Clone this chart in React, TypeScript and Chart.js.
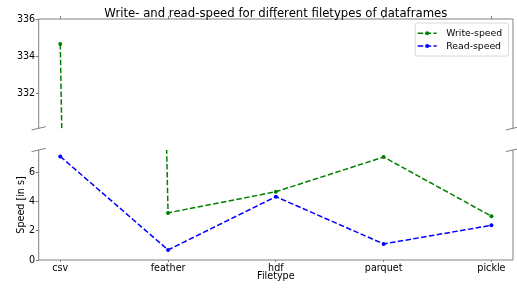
import React, { useEffect, useRef } from 'react';
import { Chart, registerables } from 'chart.js';

Chart.register(...registerables);

// ---- data ----
const categories = ['csv', 'feather', 'hdf', 'parquet', 'pickle'];
const writeSpeed = [334.65, 3.23, 4.68, 7.06, 3.0];
const readSpeed = [7.1, 0.69, 4.34, 1.1, 2.38];
const topTicks = [332, 334, 336];
const bottomTicks = [0, 2, 4, 6];
const topRange = [330.1, 336];
const bottomRange = [0, 7.54];
const titleText = 'Write- and read-speed for different filetypes of dataframes';
const xTitle = 'Filetype';
const yTitle = 'Speed [in s]';

const FONT = "'DejaVu Sans', 'Liberation Sans', sans-serif";
const SPINE = '#808080';
const WRITE_COLOR = '#008000';
const READ_COLOR = '#0000ff';

const seriesList = [
  { label: 'Write-speed', values: writeSpeed, color: WRITE_COLOR },
  { label: 'Read-speed', values: readSpeed, color: READ_COLOR },
];

function makeDatasets() {
  return seriesList.map((s) => ({
    label: s.label,
    data: categories.map((_, i) => ({ x: i, y: s.values[i] })),
    borderColor: s.color,
    backgroundColor: s.color,
    borderWidth: 1.5,
    borderDash: [5.5, 2.4],
    pointRadius: 2,
    pointBorderWidth: 0,
    pointBackgroundColor: s.color,
    tension: 0,
    clip: 0,
  }));
}

const decorPlugin = {
  id: 'decor',
  afterDraw(chart: any, _args: any, opts: any) {
    const { ctx, chartArea: a } = chart;
    const which = opts.which;
    ctx.save();
    ctx.strokeStyle = SPINE;
    ctx.lineWidth = 1;
    ctx.beginPath();
    ctx.moveTo(a.left, a.top);
    ctx.lineTo(a.left, a.bottom);
    ctx.moveTo(a.right, a.top);
    ctx.lineTo(a.right, a.bottom);
    if (which === 'top') {
      ctx.moveTo(a.left, a.top);
      ctx.lineTo(a.right, a.top);
    } else {
      ctx.moveTo(a.left, a.bottom);
      ctx.lineTo(a.right, a.bottom);
    }
    ctx.stroke();
    // break marks
    const dx = 0.015 * (a.right - a.left);
    const dy = 0.015 * (a.bottom - a.top);
    const y = which === 'top' ? a.bottom : a.top;
    ctx.beginPath();
    for (const x of [a.left, a.right]) {
      ctx.moveTo(x - dx, y + dy);
      ctx.lineTo(x + dx, y - dy);
    }
    ctx.stroke();

    if (which === 'top') {
      // title
      ctx.fillStyle = '#000';
      ctx.font = `11.7px ${FONT}`;
      ctx.textAlign = 'center';
      ctx.textBaseline = 'alphabetic';
      ctx.fillText(titleText, (a.left + a.right) / 2, 16.8);
      // legend
      const bw = 93.3;
      const bh = 33;
      const bx = a.right - 4.5 - bw;
      const by = a.top + 4;
      ctx.beginPath();
      const r = 2;
      ctx.moveTo(bx + r, by);
      ctx.lineTo(bx + bw - r, by);
      ctx.quadraticCurveTo(bx + bw, by, bx + bw, by + r);
      ctx.lineTo(bx + bw, by + bh - r);
      ctx.quadraticCurveTo(bx + bw, by + bh, bx + bw - r, by + bh);
      ctx.lineTo(bx + r, by + bh);
      ctx.quadraticCurveTo(bx, by + bh, bx, by + bh - r);
      ctx.lineTo(bx, by + r);
      ctx.quadraticCurveTo(bx, by, bx + r, by);
      ctx.fillStyle = 'rgba(255,255,255,0.8)';
      ctx.fill();
      ctx.strokeStyle = '#d8d8d8';
      ctx.stroke();
      chart.data.datasets.forEach((ds: any, i: number) => {
        const cy = by + 10.3 + i * 12.7;
        const x0 = bx + 2.5;
        const x1 = bx + 21.5;
        ctx.strokeStyle = ds.borderColor;
        ctx.lineWidth = 1.5;
        ctx.setLineDash([5.5, 2.4]);
        ctx.beginPath();
        ctx.moveTo(x0, cy);
        ctx.lineTo(x1, cy);
        ctx.stroke();
        ctx.setLineDash([]);
        ctx.fillStyle = ds.borderColor;
        ctx.beginPath();
        ctx.arc((x0 + x1) / 2, cy, 2, 0, Math.PI * 2);
        ctx.fill();
        ctx.fillStyle = '#000';
        ctx.font = `9.3px ${FONT}`;
        ctx.textAlign = 'left';
        ctx.textBaseline = 'middle';
        ctx.fillText(ds.label, bx + 31, cy + 0.5);
      });
    }
    ctx.restore();
  },
};

function xScale(position: 'top' | 'bottom') {
  const isTop = position === 'top';
  return {
    type: 'linear',
    position,
    min: -0.2,
    max: 4.2,
    afterBuildTicks: (s: any) => {
      s.ticks = categories.map((_, i) => ({ value: i }));
    },
    afterFit: (s: any) => {
      s.height = isTop ? 19 : 28;
    },
    ticks: {
      display: !isTop,
      autoSkip: false,
      maxRotation: 0,
      padding: 0.5,
      color: '#000',
      font: { family: FONT, size: 9.6 },
      callback: (v: any) => categories[v] ?? '',
    },
    grid: {
      drawOnChartArea: false,
      drawTicks: true,
      tickLength: isTop ? 3 : 2,
      color: SPINE,
    },
    border: { display: false },
    title: isTop
      ? { display: false }
      : {
          display: true,
          text: xTitle,
          color: '#000',
          font: { family: FONT, size: 9.6 },
          padding: { top: 0, bottom: 5.3 },
        },
  };
}

function yScale(range: number[], ticks: number[], withTitle: boolean) {
  return {
    type: 'linear',
    min: range[0],
    max: range[1],
    afterBuildTicks: (s: any) => {
      s.ticks = ticks.map((v) => ({ value: v }));
    },
    afterFit: (s: any) => {
      s.width = 38.7;
    },
    ticks: {
      padding: 0.5,
      color: '#000',
      font: { family: FONT, size: 9.6 },
      callback: (v: any) => String(v),
    },
    grid: {
      drawOnChartArea: false,
      drawTicks: true,
      tickLength: 3,
      color: SPINE,
    },
    border: { display: false },
    title: withTitle
      ? {
          display: true,
          text: yTitle,
          color: '#000',
          font: { family: FONT, size: 9.6 },
          padding: { top: 16, bottom: 0 },
        }
      : { display: false },
  };
}

function makeConfig(which: 'top' | 'bottom'): any {
  const isTop = which === 'top';
  return {
    type: 'line',
    data: { datasets: makeDatasets() },
    options: {
      animation: false,
      responsive: false,
      devicePixelRatio: 1,
      layout: {
        padding: isTop
          ? { left: 0, right: 3.5, top: 0, bottom: 11.7 }
          : { left: 0, right: 3.5, top: 10, bottom: 0 },
      },
      plugins: {
        legend: { display: false },
        title: { display: false },
        tooltip: { enabled: false },
        decor: { which },
      },
      scales: {
        x: xScale(isTop ? 'top' : 'bottom'),
        y: isTop ? yScale(topRange, topTicks, false) : yScale(bottomRange, bottomTicks, true),
      },
    },
    plugins: [decorPlugin],
  };
}

export default function App() {
  const topRef = useRef<HTMLCanvasElement>(null);
  const bottomRef = useRef<HTMLCanvasElement>(null);

  useEffect(() => {
    const c1 = new Chart(topRef.current as HTMLCanvasElement, makeConfig('top'));
    const c2 = new Chart(bottomRef.current as HTMLCanvasElement, makeConfig('bottom'));
    return () => {
      c1.destroy();
      c2.destroy();
    };
  }, []);

  return (
    <div
      style={{
        position: 'fixed',
        left: 0,
        top: 0,
        width: 517,
        height: 288,
        background: '#fff',
        overflow: 'hidden',
      }}
    >
      <canvas
        ref={topRef}
        width={517}
        height={140}
        style={{ position: 'absolute', left: 0, top: 0, width: 517, height: 140 }}
      />
      <canvas
        ref={bottomRef}
        width={517}
        height={148}
        style={{ position: 'absolute', left: 0, top: 140, width: 517, height: 148 }}
      />
    </div>
  );
}
